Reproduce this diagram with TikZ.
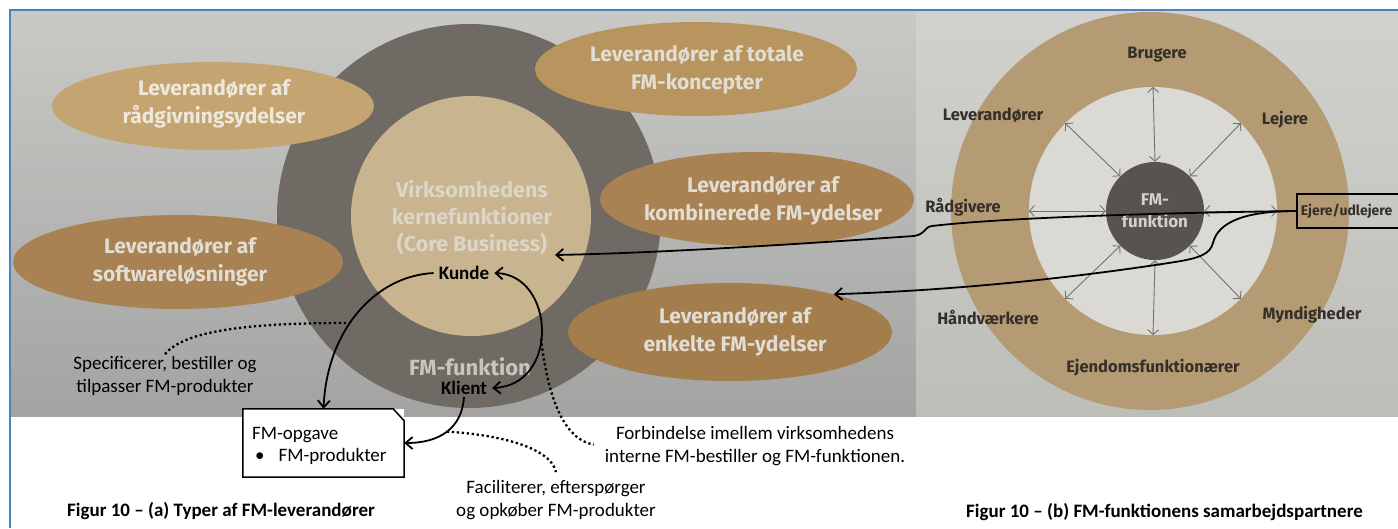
\documentclass[tikz,border=0pt]{standalone}
\usepackage{fontspec}
\setmainfont{Carlito}
\newfontfamily\photofont{Fira Sans}
\usetikzlibrary{arrows.meta,shapes.geometric}

% photo backgrounds
\definecolor{bgtopL}{HTML}{C9C9C6}
\definecolor{bgbotL}{HTML}{A3A3A2}
\definecolor{bgtopR}{HTML}{D1D1CD}
\definecolor{bgbotR}{HTML}{BEBEB9}
\definecolor{framebl}{HTML}{4F81BD}
% left figure
\definecolor{darkring}{HTML}{6F6B64}
\definecolor{coresand}{HTML}{C8B58F}
\definecolor{coretxt}{HTML}{DDD5C7}
\definecolor{ringtxt}{HTML}{C9C5BD}
\definecolor{goldA}{HTML}{C4A470}
\definecolor{goldB}{HTML}{A98254}
\definecolor{goldC}{HTML}{B8955F}
\definecolor{goldD}{HTML}{A98253}
\definecolor{goldE}{HTML}{A47D4C}
\definecolor{elltxt}{HTML}{E2DDD4}
\definecolor{elltxtA}{HTML}{EEE8DC}
% right figure
\definecolor{ringtan}{HTML}{B49B74}
\definecolor{ringin}{HTML}{DAD9D4}
\definecolor{fmdark}{HTML}{57544F}
\definecolor{fmtxt}{HTML}{D3D0C9}
\definecolor{labeltxt}{HTML}{352F28}
\definecolor{thinarrow}{HTML}{727272}

\tikzset{
  supplier/.style={ellipse, inner sep=0pt},
  suppliertext/.style={align=center, text=elltxt, inner sep=0pt,
    font=\photofont\bfseries\fontsize{21}{28}\selectfont},
  partner/.style={text=labeltxt, inner sep=1pt,
    font=\photofont\bfseries\fontsize{16.5}{20}\selectfont},
  note/.style={align=center, inner sep=2pt, font=\fontsize{19}{23}\selectfont},
  role/.style={inner xsep=5pt, inner ysep=2pt, font=\bfseries\fontsize{19}{23}\selectfont},
  caption/.style={inner sep=0pt, font=\bfseries\fontsize{19}{23}\selectfont},
  mainarrow/.style={line width=1.8pt, -{Straight Barb[length=7pt,width=12pt]}},
  dblarrow/.style={line width=1.8pt, {Straight Barb[length=7pt,width=12pt]}-{Straight Barb[length=7pt,width=12pt]}},
  dotline/.style={line width=2.3pt, dash pattern=on 2.3pt off 2.7pt},
  ringarrow/.style={draw=thinarrow, line width=0.9pt,
    {Straight Barb[length=5pt,width=11pt]}-{Straight Barb[length=5pt,width=11pt]}}
}

\begin{document}
\begin{tikzpicture}[x=1pt,y=-1pt]
\useasboundingbox (0,0) rectangle (1398,528);
\clip (0,0) rectangle (1398,528);
\fill[white] (0,0) rectangle (1398,528);

% the two photographed figures
\shade[top color=bgtopL, bottom color=bgbotL] (11,11) rectangle (916,416);
\shade[top color=bgtopR, bottom color=bgbotR] (916,11) rectangle (1398,416);
\draw[framebl, line width=1.5pt] (10,528) -- (10,10) -- (1398,10);

% ---- (a) supplier types ----
\node[circle, fill=darkring, minimum size=384pt, inner sep=0pt] (fmring) at (469,216) {};
\node[circle, fill=coresand, minimum size=240pt, inner sep=0pt] (core) at (471,216) {};
\node[suppliertext, text=coretxt, align=center, font=\photofont\bfseries\fontsize{21.5}{27}\selectfont]
  (coretext) at (472,217) {Virksomhedens\\kernefunktioner\\(Core Business)};
\node[text=ringtxt, inner sep=0pt, font=\photofont\bfseries\fontsize{22}{25}\selectfont]
  (fmfunk) at (470,367) {FM-funktion};

\node[supplier, fill=goldA, minimum width=322pt, minimum height=88pt] (raad) at (213,106) {};
\node[suppliertext, text=elltxtA] (raadT) at (214,104) {Leverandører af\\rådgivningsydelser};
\node[supplier, fill=goldB, minimum width=330pt, minimum height=94pt] (soft) at (178,262) {};
\node[suppliertext] (softT) at (180,262) {Leverandører af\\softwareløsninger};
\node[supplier, fill=goldC, minimum width=322pt, minimum height=94pt] (total) at (696,69) {};
\node[suppliertext] (totalT) at (697,70) {Leverandører af totale\\FM-koncepter};
\node[supplier, fill=goldD, minimum width=314pt, minimum height=94pt] (komb) at (757,199) {};
\node[suppliertext] (kombT) at (763,201) {Leverandører af\\kombinerede FM-ydelser};
\node[supplier, fill=goldE, minimum width=324pt, minimum height=98pt] (enk) at (730,332) {};
\node[suppliertext] (enkT) at (735,332) {Leverandører af\\enkelte FM-ydelser};

\node[role] (kunde) at (464,273) {Kunde};
\node[role] (klient) at (464,388) {Klient};

% task box with a snipped corner
\node[minimum width=161pt, minimum height=68pt, inner sep=0pt, fill=white] (opgave) at (323.5,443) {};
\draw[line width=1.5pt] (opgave.north west) -- ([xshift=-11pt]opgave.north east)
  -- ([yshift=-12pt]opgave.north east) -- (opgave.south east) -- (opgave.south west) -- cycle;
\node[anchor=north west, align=left, inner sep=0pt, font=\fontsize{19}{22.5}\selectfont]
  (opgaveT) at (252,427) {FM-opgave\\\hspace*{3pt}\textbullet\hspace*{14pt}FM-produkter};

% annotations
\node[note] (spec) at (165,376) {Specificerer, bestiller og\\tilpasser FM-produkter};
\node[note] (fac) at (556,500) {Faciliterer, efterspørger\\og opkøber FM-produkter};
\node[note] (forb) at (755,446) {Forbindelse imellem virksomhedens\\interne FM-bestiller og FM-funktionen.};

\draw[mainarrow] (kunde.west) .. controls (375,276) and (327,330) ..
  coordinate[pos=0.57] (kundeArc) (opgave.north);
\draw[mainarrow] (klient.south) .. controls (462,428) and (440,443) ..
  coordinate[pos=0.5] (klientArc) (opgave.east);
\draw[dblarrow] (kunde.east) .. controls (555,275) and (560,385) ..
  coordinate[pos=0.55] (arcPt) (klient.east);

\draw[dotline] (spec.north) .. controls (185,330) and (250,323) .. (kundeArc);
\draw[dotline] (klientArc) .. controls (490,434) and (550,445) .. ([yshift=6pt]fac.north);
\draw[dotline, shorten >=9pt] (arcPt) .. controls (548,400) and (565,440) .. (forb.west);

% ---- (b) partners of the FM function ----
\node[circle, fill=ringtan, minimum size=398pt, inner sep=0pt] (outer) at (1150,211) {};
\node[circle, fill=ringin, minimum size=248pt, inner sep=0pt] (inner) at (1153,211) {};
\node[circle, fill=fmdark, minimum size=98pt, inner sep=0pt, text=fmtxt, align=center,
  font=\photofont\bfseries\fontsize{17}{22}\selectfont] (fmc) at (1155,211) {FM-\\funktion};
\foreach \a in {0,45,...,315}
  \draw[ringarrow] (fmc.\a) -- (inner.\a);

\node[partner] (brugere) at (1157,55) {Brugere};
\node[partner] (lev) at (993,115) {Leverandører};
\node[partner] (lejere) at (1285,120) {Lejere};
\node[partner] (raadg) at (963,207) {Rådgivere};
\node[partner] (haand) at (988,317) {Håndværkere};
\node[partner] (mynd) at (1312,315) {Myndigheder};
\node[partner] (ejend) at (1153,368) {Ejendomsfunktionærer};
% this box runs on past the right edge
\node[partner, draw=black, line width=1.5pt, anchor=west, minimum height=34pt, inner xsep=4pt,
  text width=100pt, align=left,
  font=\photofont\bfseries\fontsize{14}{16}\selectfont] (ejere) at (1296,211) {Ejere/udlejere};

\coordinate (coreIn) at (555,255);
\draw[mainarrow] (ejere.west) .. controls (1150,213) and (1000,218) .. (932,226)
  .. controls (924,227) and (926,234) .. (914,236)
  .. controls (800,244) and (660,253) .. (coreIn);
\draw[mainarrow] (ejere.west) .. controls (1245,211) and (1218,222) .. (1213,243)
  .. controls (1210,254) and (1200,258) .. (1175,262)
  .. controls (1060,280) and (940,291) .. (enk.20);

% captions
\node[caption, anchor=west] (capA) at (67,511) {Figur 10 – (a) Typer af FM-leverandører};
\node[caption, anchor=east] (capB) at (1363,512) {Figur 10 – (b) FM-funktionens samarbejdspartnere};
\end{tikzpicture}
\end{document}
